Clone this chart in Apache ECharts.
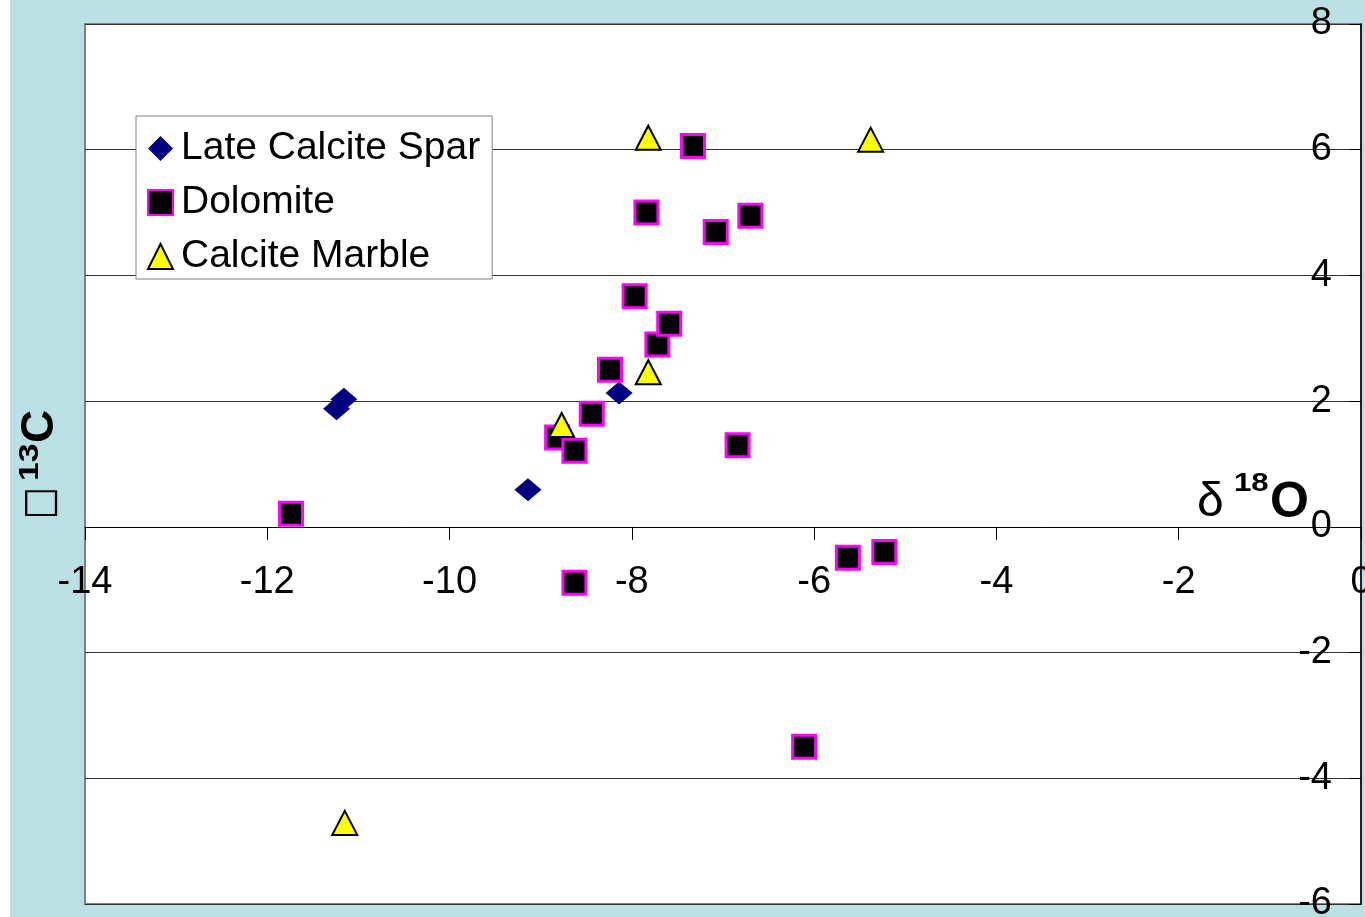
<!DOCTYPE html>
<html>
<head>
<meta charset="utf-8">
<script src="https://cdn.jsdelivr.net/npm/echarts@6/dist/echarts.min.js"></script>
<style>
  html, body { margin: 0; padding: 0; background: #ffffff; }
  #main { position: absolute; left: 10px; top: 0; width: 1355px; height: 917px; }
</style>
</head>
<body>
<div id="main"></div>
<script>
// 数据：[δ18O, δ13C]
var sparData = [[-11.16, 2.03], [-11.24, 1.88], [-8.14, 2.13], [-9.14, 0.59]];
var dolomiteData = [
  [-11.74, 0.21], [-8.82, 1.42], [-8.63, 1.21], [-8.44, 1.80], [-8.24, 2.50],
  [-7.97, 3.67], [-7.72, 2.90], [-7.59, 3.23], [-7.84, 5.00], [-7.08, 4.69],
  [-6.70, 4.95], [-7.33, 6.06], [-6.84, 1.30], [-8.63, -0.89], [-5.63, -0.49],
  [-5.23, -0.40], [-6.11, -3.50]
];
var marbleData = [[-7.82, 6.19], [-5.38, 6.16], [-7.82, 2.46], [-8.77, 1.62], [-11.15, -4.71]];
var seriesNames = ['Late Calcite Spar', 'Dolomite', 'Calcite Marble'];
var xTicks = [-14, 0, 2];   // min, max, interval
var yTicks = [-6, 8, 2];

var font = '"Liberation Sans", Arial, sans-serif';
var gridTop = 24, gridBottom = 13, chartH = 917;
var plotH = chartH - gridTop - gridBottom;
// 横轴放在 y=0 处（标签也跟着走）
var xOffset = -plotH * (0 - yTicks[0]) / (yTicks[1] - yTicks[0]);

var myChart = echarts.init(document.getElementById('main'));

var option = {
  backgroundColor: '#bbe0e3',
  animation: false,
  grid: {
    left: 75, right: 4, top: gridTop, bottom: gridBottom,
    outerBoundsMode: 'none',
    containLabel: false,
    show: true,
    backgroundColor: '#ffffff',
    borderColor: '#808080',
    borderWidth: 2
  },
  legend: {
    orient: 'vertical',
    left: 126, top: 116,
    backgroundColor: '#ffffff',
    borderColor: '#808080',
    borderWidth: 1,
    borderRadius: 0,
    padding: [13, 12, 3, 11],
    itemGap: 15,
    itemWidth: 25,
    itemHeight: 25,
    textStyle: { fontFamily: font, fontSize: 39, color: '#000', padding: [0, 0, 0, 3] },
    data: seriesNames
  },
  xAxis: {
    type: 'value',
    min: xTicks[0], max: xTicks[1], interval: xTicks[2],
    offset: xOffset,
    axisLine: { onZero: false, lineStyle: { color: '#000', width: 1 } },
    axisTick: { show: true, length: 13, lineStyle: { color: '#000' } },
    axisLabel: { fontFamily: font, fontSize: 38, color: '#000', margin: 37, showMinLabel: true, showMaxLabel: true },
    splitLine: { show: false }
  },
  yAxis: {
    type: 'value',
    position: 'right',
    min: yTicks[0], max: yTicks[1], interval: yTicks[2],
    axisLine: { show: true, onZero: false, lineStyle: { color: '#000', width: 1.5 } },
    axisTick: { show: true, inside: true, length: 12, lineStyle: { color: '#000' } },
    axisLabel: { inside: true, fontFamily: font, fontSize: 38, color: '#000', margin: 29 },
    splitLine: { show: true, lineStyle: { color: '#333', width: 1 } }
  },
  series: [
    {
      name: seriesNames[0], type: 'scatter', symbol: 'diamond', symbolSize: [27, 23],
      itemStyle: { color: '#000080', opacity: 1 },
      data: sparData
    },
    {
      name: seriesNames[1], type: 'scatter', symbol: 'rect', symbolSize: 23,
      itemStyle: { color: '#000000', borderColor: '#ff00ff', borderWidth: 3, opacity: 1 },
      data: dolomiteData
    },
    {
      name: seriesNames[2], type: 'scatter', symbol: 'triangle', symbolSize: [25, 24],
      itemStyle: { color: '#ffff00', borderColor: '#000000', borderWidth: 2, opacity: 1 },
      data: marbleData
    }
  ],
  graphic: [
    // 横轴标题 δ 18O
    { type: 'text', left: 1187, top: 479, style: { text: 'δ', fontFamily: font, fontSize: 48, fill: '#000' } },
    { type: 'text', left: 1224, top: 471, scaleX: 1.2, style: { text: '18', fontFamily: font, fontWeight: 'bold', fontSize: 26, fill: '#000' } },
    { type: 'text', left: 1260, top: 478, style: { text: 'O', fontFamily: font, fontWeight: 'bold', fontSize: 50, fill: '#000' } },
    // 纵轴标题（旋转）
    {
      type: 'group', x: 30, y: 519, rotation: Math.PI / 2,
      children: [
        { type: 'text', x: 0, y: 1, scaleX: 0.8, style: { text: '\u25A1', fontFamily: '"DejaVu Sans"', fontSize: 42, fill: '#000', verticalAlign: 'middle' } },
        { type: 'text', x: 38, y: -9, scaleX: 1.25, style: { text: '13', fontFamily: font, fontWeight: 'bold', fontSize: 27, fill: '#000', verticalAlign: 'middle' } },
        { type: 'text', x: 76, y: 0.5, style: { text: 'C', fontFamily: font, fontWeight: 'bold', fontSize: 46, fill: '#000', verticalAlign: 'middle' } }
      ]
    }
  ]
};

myChart.setOption(option);
</script>
</body>
</html>
